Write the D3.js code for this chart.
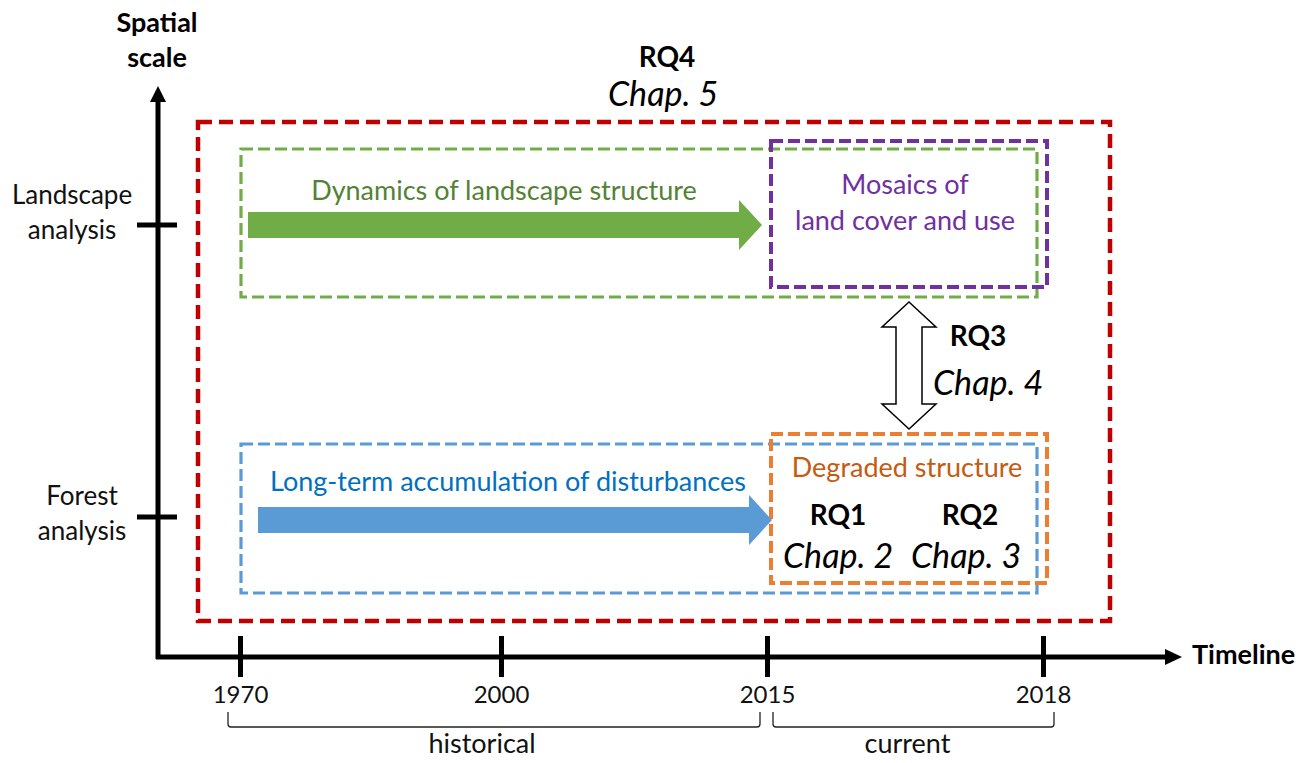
<!DOCTYPE html>
<html><head><meta charset="utf-8">
<script src="https://cdn.jsdelivr.net/npm/d3@7"></script>
<style>
html,body{margin:0;padding:0;background:#fff;}
svg{display:block;font-family:Lato,"Open Sans",sans-serif;}
</style></head>
<body>
<svg id="chart" width="1313" height="763"></svg>
<script>
// ---- data ----
const years = [1970, 2000, 2015, 2018];
const yearLabels = ["1970", "2000", "2015", "2018"];
const levels = ["Forest analysis", "Landscape analysis"];
const levelLines = [["Forest", "analysis"], ["Landscape", "analysis"]];
const periods = ["historical", "current"];
const periodStart = [1970, 2015];
const periodEnd = [2015, 2018];
const processNames = ["Long-term accumulation of disturbances", "Dynamics of landscape structure"];
const processLevel = ["Forest analysis", "Landscape analysis"];
const processFrom = [1970, 1970];
const processTo = [2015, 2015];
const stateLines = [["Degraded structure"], ["Mosaics of", "land cover and use"]];
const rqLabels = ["RQ1", "RQ2", "RQ3", "RQ4"];
const chapLabels = ["Chap. 2", "Chap. 3", "Chap. 4", "Chap. 5"];
const axisTitles = ["Spatial", "scale", "Timeline"];

const svg = d3.select("#chart");
const x = d3.scaleLinear().domain(years).range([240, 501, 767, 1043]);
const y = d3.scalePoint().domain(levels).range([517, 225]);

const C = {red:"#C00000", green:"#70AD47", purple:"#7030A0", blue:"#5B9BD5", orange:"#ED7D31",
  greenText:"#548235", blueText:"#0070C0", orangeText:"#C55A11"};

const axisY = 657, axisX = 158;
const FS = 27;

// ---- dashed frames ----
function frame(x0, y0, x1, y1, color, w, dash){
  svg.append("rect").attr("x", x0).attr("y", y0).attr("width", x1 - x0).attr("height", y1 - y0)
    .attr("fill", "none").attr("stroke", color).attr("stroke-width", w)
    .attr("stroke-dasharray", dash);
}
const yF = y("Forest analysis"), yL = y("Landscape analysis");
frame(x(1970) - 42, 122, x(2018) + 67, 621, C.red, 4.5, "14,7");
frame(x(1970) + 1, yL - 76, x(2018) - 6, yL + 72, C.green, 3.2, "12,5");
frame(x(1970) + 1, yF - 73, x(2018) - 6, yF + 76, C.blue, 3.2, "12,5");
frame(x(2015) + 4, yL - 84, x(2018) + 4, yL + 62, C.purple, 4, "12,5");
frame(x(2015) + 4, yF - 83, x(2018) + 4, yF + 66, C.orange, 4, "12,5");

// ---- axes ----
svg.append("line").attr("x1", axisX).attr("x2", axisX).attr("y1", axisY + 2).attr("y2", 100)
  .attr("stroke", "#000").attr("stroke-width", 5);
svg.append("path").attr("d", `M${axisX-8},102 L${axisX},86 L${axisX+8},102 Z`).attr("fill", "#000");
svg.append("line").attr("x1", axisX - 2).attr("x2", 1166).attr("y1", axisY).attr("y2", axisY)
  .attr("stroke", "#000").attr("stroke-width", 5);
svg.append("path").attr("d", `M1165,${axisY-8} L1182,${axisY} L1165,${axisY+8} Z`).attr("fill", "#000");

const xAxis = svg.append("g").attr("transform", `translate(0,${axisY})`)
  .call(d3.axisBottom(x).tickValues(years).tickFormat((d, i) => yearLabels[i]).tickSize(20).tickPadding(9));
xAxis.select(".domain").remove();
xAxis.selectAll(".tick line").attr("y1", -21).attr("y2", 20).attr("stroke", "#000").attr("stroke-width", 5);
xAxis.selectAll(".tick text").attr("font-size", 24).attr("font-family", "Lato").attr("fill", "#111");

// y ticks
const yAxis = svg.append("g");
levels.forEach((lv, i) => {
  yAxis.append("line").attr("x1", axisX - 21).attr("x2", axisX + 19).attr("y1", y(lv)).attr("y2", y(lv))
    .attr("stroke", "#000").attr("stroke-width", 5);
  const cx = i === 0 ? 82 : 72;
  const t = yAxis.append("text").attr("text-anchor", "middle").attr("font-size", 26).attr("fill", "#111");
  levelLines[i].forEach((ln, j) => {
    t.append("tspan").attr("x", cx).attr("y", y(lv) - (i === 0 ? 12 : 21) + j * 35).text(ln);
  });
});

// axis titles
svg.append("text").attr("x", 157).attr("y", 32).attr("text-anchor", "middle")
  .attr("font-size", 27).attr("font-weight", "bold").text(axisTitles[0]);
svg.append("text").attr("x", 157).attr("y", 67).attr("text-anchor", "middle")
  .attr("font-size", 27).attr("font-weight", "bold").text(axisTitles[1]);
svg.append("text").attr("x", 1192).attr("y", 664).attr("text-anchor", "start")
  .attr("font-size", 27).attr("font-weight", "bold").text(axisTitles[2]);

// ---- period braces ----
const bTop = 712, bBot = 727;
periods.forEach((p, i) => {
  const x0 = x(periodStart[i]) + (i === 0 ? -12 : 6);
  const x1 = x(periodEnd[i]) + (i === 0 ? -7 : 11);
  svg.append("path")
    .attr("d", `M${x0},${bTop} L${x0},${bBot-3} Q${x0},${bBot} ${x0+3},${bBot} L${x1-3},${bBot} Q${x1},${bBot} ${x1},${bBot-3} L${x1},${bTop}`)
    .attr("fill", "none").attr("stroke", "#222").attr("stroke-width", 1.3);
  svg.append("text").attr("x", (x0 + x1) / 2 + (i === 0 ? -12 : -6)).attr("y", 753)
    .attr("text-anchor", "middle").attr("font-size", FS).attr("fill", "#111").text(p);
});

// ---- process arrows ----
function blockArrow(x0, x1, cy, shaftH, headH, headL, color){
  const hx = x1 - headL;
  svg.append("path").attr("d",
    `M${x0},${cy-shaftH/2} L${hx},${cy-shaftH/2} L${hx},${cy-headH/2} L${x1},${cy} L${hx},${cy+headH/2} L${hx},${cy+shaftH/2} L${x0},${cy+shaftH/2} Z`)
    .attr("fill", color);
}
processNames.forEach((name, i) => {
  const cy = y(processLevel[i]) + (i === 0 ? 3 : 0);
  const xs = x(processFrom[i]) + (i === 0 ? 18 : 8);
  const xe = x(processTo[i]) + (i === 0 ? 5 : -5);
  blockArrow(xs, xe, cy, 26, 50, 23, i === 0 ? C.blue : C.green);
  svg.append("text").attr("x", i === 0 ? 508 : 504).attr("y", cy - (i === 0 ? 29 : 25))
    .attr("text-anchor", "middle").attr("font-size", FS)
    .attr("fill", i === 0 ? C.blueText : C.greenText).text(name);
});

// ---- state texts ----
const stateCx = (x(2015) + x(2018)) / 2 + 2;
svg.append("text").attr("x", stateCx).attr("y", yF - 40).attr("text-anchor", "middle")
  .attr("font-size", FS).attr("fill", C.orangeText).text(stateLines[0][0]);
stateLines[1].forEach((ln, j) => {
  svg.append("text").attr("x", stateCx - 2).attr("y", yL - 31 + j * 36).attr("text-anchor", "middle")
    .attr("font-size", FS).attr("fill", C.purple).text(ln);
});

// ---- research questions ----
function rq(cx, yb, rqText, chText, dx, gap){
  svg.append("text").attr("x", cx).attr("y", yb).attr("text-anchor", "middle")
    .attr("font-size", 28).attr("font-weight", "bold").attr("fill", "#000").text(rqText);
  svg.append("text").attr("x", cx + dx).attr("y", yb + gap).attr("text-anchor", "middle")
    .attr("font-size", 34).attr("font-style", "italic").attr("fill", "#000").text(chText);
}
rq(838, 525, rqLabels[0], chapLabels[0], 0, 43);
rq(970, 525, rqLabels[1], chapLabels[1], -4, 43);
rq(978, 346, rqLabels[2], chapLabels[2], 10, 49);
rq(667, 67, rqLabels[3], chapLabels[3], -4, 39);

// ---- double arrow linking levels ----
const ax = 909, aTop = 302, aBot = 429;
const sw = 13, hw = 27, hh = 25;
svg.append("path").attr("d",
  `M${ax},${aTop} L${ax+hw},${aTop+hh} L${ax+sw},${aTop+hh} L${ax+sw},${aBot-hh} L${ax+hw},${aBot-hh} L${ax},${aBot} L${ax-hw},${aBot-hh} L${ax-sw},${aBot-hh} L${ax-sw},${aTop+hh} L${ax-hw},${aTop+hh} Z`)
  .attr("fill", "#fff").attr("stroke", "#000").attr("stroke-width", 1.5);
</script>
</body></html>
